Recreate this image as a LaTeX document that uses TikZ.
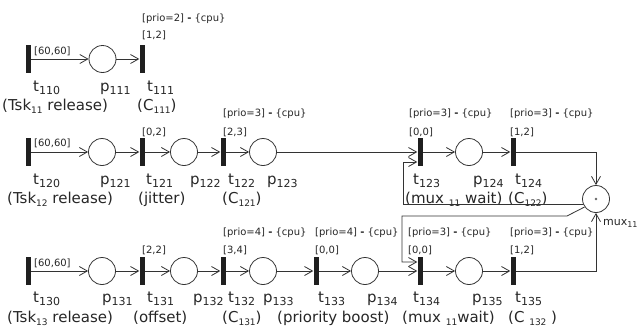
\documentclass[tikz,border=0pt]{standalone}
\usepackage{fontspec}
\setmainfont{DejaVu Sans}
\usetikzlibrary{arrows.meta}
\newcommand\tsb[1]{\raisebox{-3.5pt}{\fontsize{11}{12}\selectfont #1}}
\newcommand\psb[1]{\raisebox{-3pt}{\fontsize{9}{10}\selectfont #1}}
\newcommand\msb[1]{\raisebox{-2.5pt}{\fontsize{8}{9}\selectfont #1}}
\tikzset{
 bar/.style={rectangle, fill=black!88, inner sep=0, minimum width=5pt, minimum height=28pt},
 place/.style={circle, draw=black!80, line width=0.8pt, inner sep=0, minimum size=27pt},
 arc/.style={draw=black!80, line width=0.8pt, -{Straight Barb[length=8pt,width=9pt]}},
 seg/.style={draw=black!80, line width=0.8pt},
 lab/.style={inner sep=0, anchor=base west, font=\fontsize{15}{18}\selectfont, text=black!85},
 iv/.style={inner sep=0, anchor=base west, font=\fontsize{10}{12}\selectfont, text=black!85},
 mlab/.style={inner sep=0, anchor=base west, font=\fontsize{11}{13}\selectfont, text=black!85},
}
\newcommand\pr[1]{[prio=#1] \textbf{-} \{cpu\}}
\begin{document}
\begin{tikzpicture}[x=1pt,y=-1pt]
\useasboundingbox (0,0) rectangle (638,327);
% ---------- row 1
\node[bar] (t110) at (28.5,59) {};
\node[place] (p111) at (102.5,59) {};
\node[bar] (t111) at (142,59) {};
\draw[arc] (t110) -- (p111);
\draw[arc] (p111) -- (t111);
\node[iv] (i110) at (34,54) {[60,60]};
\node[iv] (r111) at (142,21) {\pr{2}};
\node[iv] (i111) at (142,38) {[1,2]};
\node[lab] (l110) at (33,91) {t\tsb{110}};
\node[lab] (l111p) at (100,91) {p\tsb{111}};
\node[lab] (l111) at (147,91) {t\tsb{111}};
\node[lab] (n110) at (2,110) {(Tsk\psb{11} release)};
\node[lab] (n111) at (137,110) {(C\psb{111})};
% ---------- row 2
\node[bar] (t120) at (28.5,152) {};
\node[place] (p121) at (102,152) {};
\node[bar] (t121) at (142,152) {};
\node[place] (p122) at (184,152) {};
\node[bar] (t122) at (223,152) {};
\node[place] (p123) at (263,152) {};
\node[bar] (t123) at (420,152) {};
\node[place] (p124) at (469,152) {};
\node[bar] (t124) at (513,152) {};
\draw[arc] (t120) -- (p121);
\draw[arc] (p121) -- (t121);
\draw[arc] (t121) -- (p122);
\draw[arc] (p122) -- (t122);
\draw[arc] (t122) -- (p123);
\draw[arc] (p123) -- (t123);
\draw[arc] (t123) -- (p124);
\draw[arc] (p124) -- (t124);
\node[iv] (i120) at (34,146) {[60,60]};
\node[iv] (i121) at (142,135) {[0,2]};
\node[iv] (r122) at (223,116) {\pr{3}};
\node[iv] (i122) at (223,135) {[2,3]};
\node[iv] (r123) at (409,116) {\pr{3}};
\node[iv] (i123) at (409,135) {[0,0]};
\node[iv] (r124) at (510,116) {\pr{3}};
\node[iv] (i124) at (510,135) {[1,2]};
\node[lab] (l120) at (33,184) {t\tsb{120}};
\node[lab] (l121p) at (100,184) {p\tsb{121}};
\node[lab] (l121) at (146,184) {t\tsb{121}};
\node[lab] (l122p) at (190,184) {p\tsb{122}};
\node[lab] (l122) at (228,184) {t\tsb{122}};
\node[lab] (l123p) at (267,184) {p\tsb{123}};
\node[lab] (l123) at (413,184) {t\tsb{123}};
\node[lab] (l124p) at (473,184) {p\tsb{124}};
\node[lab] (l124) at (515,184) {t\tsb{124}};
\node[lab] (n120) at (7,203) {(Tsk\psb{12} release)};
\node[lab] (n121) at (138,203) {(jitter)};
\node[lab] (n122) at (222,203) {(C\psb{121})};
\node[lab] (n123) at (405,203) {(mux \psb{11} wait)};
\node[lab] (n124) at (508,203) {(C\psb{122})};
% ---------- row 3
\node[bar] (t130) at (28.5,271) {};
\node[place] (p131) at (102,271) {};
\node[bar] (t131) at (142,271) {};
\node[place] (p132) at (184,271) {};
\node[bar] (t132) at (223,271) {};
\node[place] (p133) at (263,271) {};
\node[bar] (t133) at (316,271) {};
\node[place] (p134) at (365,271) {};
\node[bar] (t134) at (420,271) {};
\node[place] (p135) at (469,271) {};
\node[bar] (t135) at (513,271) {};
\draw[arc] (t130) -- (p131);
\draw[arc] (p131) -- (t131);
\draw[arc] (t131) -- (p132);
\draw[arc] (p132) -- (t132);
\draw[arc] (t132) -- (p133);
\draw[arc] (p133) -- (t133);
\draw[arc] (t133) -- (p134);
\draw[arc] (p134) -- (t134);
\draw[arc] (t134) -- (p135);
\draw[arc] (p135) -- (t135);
\node[iv] (i130) at (34,266) {[60,60]};
\node[iv] (i131) at (142,253) {[2,2]};
\node[iv] (r132) at (223,235) {\pr{4}};
\node[iv] (i132) at (223,253) {[3,4]};
\node[iv] (r133) at (315,235) {\pr{4}};
\node[iv] (i133) at (315,253) {[0,0]};
\node[iv] (r134) at (408,235) {\pr{3}};
\node[iv] (i134) at (408,253) {[0,0]};
\node[iv] (r135) at (510,235) {\pr{3}};
\node[iv] (i135) at (510,253) {[1,2]};
\node[lab] (l130) at (33,302) {t\tsb{130}};
\node[lab] (l131p) at (102,302) {p\tsb{131}};
\node[lab] (l131) at (147,302) {t\tsb{131}};
\node[lab] (l132p) at (193,302) {p\tsb{132}};
\node[lab] (l132) at (228,302) {t\tsb{132}};
\node[lab] (l133p) at (263,302) {p\tsb{133}};
\node[lab] (l133) at (318,302) {t\tsb{133}};
\node[lab] (l134p) at (367,302) {p\tsb{134}};
\node[lab] (l134) at (413,302) {t\tsb{134}};
\node[lab] (l135p) at (472,302) {p\tsb{135}};
\node[lab] (l135) at (515,302) {t\tsb{135}};
\node[lab] (n130) at (7,322) {(Tsk\psb{13} release)};
\node[lab] (n131) at (133,322) {(offset)};
\node[lab] (n132) at (222,322) {(C\psb{131})};
\node[lab] (n133) at (277,322) {(priority boost)};
\node[lab] (n134) at (402,322) {(mux \psb{11}wait)};
\node[lab] (n135) at (508,322) {(C \psb{132} )};
% ---------- mutex place
\node[place] (mux) at (596,199) {};
\fill[black!60] (mux.center) circle (1.4pt);
\node[mlab] (lmux) at (603,225) {mux\msb{11}};
\draw[arc] (t124) -| (mux);
\draw[arc] (t135) -| (mux);
\coordinate (lx1) at (403,0);
\coordinate (lx2) at (402,0);
\coordinate (d2) at (567,216);
\draw[arc] (mux.201) -- (mux.201 -| lx1) |- ([yshift=-10pt]t123.west);
\draw[arc] (mux.215) -- (d2) -- (d2 -| lx2) |- ([yshift=9pt]t134.west);
\end{tikzpicture}
\end{document}
